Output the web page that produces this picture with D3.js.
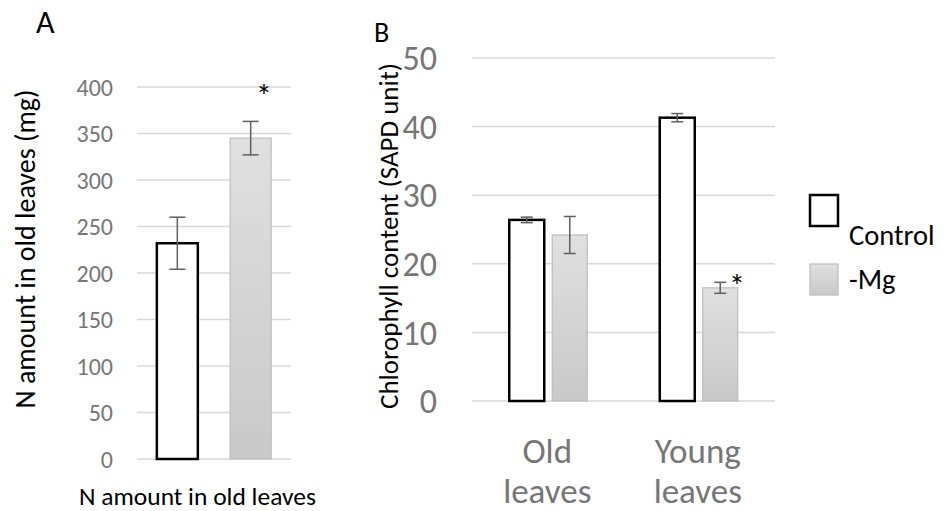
<!DOCTYPE html>
<html>
<head>
<meta charset="utf-8">
<script src="https://cdn.jsdelivr.net/npm/d3@7"></script>
<style>
  body { margin: 0; background: #fff; }
  svg { font-family: Carlito, Lato, "Open Sans", sans-serif; }
</style>
</head>
<body>
<svg id="chart" width="944" height="511"></svg>
<script>
// panel A data
const aTreatments = ["Control", "-Mg"];
const aValues = [232, 345];
const aErrors = [28, 18];
const aTicks = [0, 50, 100, 150, 200, 250, 300, 350, 400];

// panel B data
const bCategories = ["Old leaves", "Young leaves"];
const bControl = [26.4, 41.3];
const bControlErr = [0.4, 0.6];
const bMg = [24.2, 16.5];
const bMgErr = [2.7, 0.8];
const bTicks = [0, 10, 20, 30, 40, 50];

const svg = d3.select("#chart");
const gridColor = "#d9d9d9";
const tickColor = "#767676";
const errColor = "#5f5f5f";

// gradient for -Mg bars
const defs = svg.append("defs");
const grad = defs.append("linearGradient")
  .attr("id", "mgGrad").attr("x1", 0).attr("y1", 0).attr("x2", 0).attr("y2", 1);
grad.append("stop").attr("offset", "0%").attr("stop-color", "#e0e0e0");
grad.append("stop").attr("offset", "100%").attr("stop-color", "#c9c9c9");

function barStyle(sel, isMg) {
  if (isMg) {
    sel.attr("fill", "url(#mgGrad)").attr("stroke", "#bdbdbd").attr("stroke-width", 1.2);
  } else {
    sel.attr("fill", "#fff").attr("stroke", "#000").attr("stroke-width", 2.5);
  }
}

function errorBar(g, x, y0, y1, cap) {
  g.append("line").attr("x1", x).attr("x2", x).attr("y1", y0).attr("y2", y1)
    .attr("stroke", errColor).attr("stroke-width", 1.5);
  [y0, y1].forEach(y => {
    g.append("line").attr("x1", x - cap / 2).attr("x2", x + cap / 2).attr("y1", y).attr("y2", y)
      .attr("stroke", errColor).attr("stroke-width", 1.5);
  });
}

// ---------- Panel A ----------
const yA = d3.scaleLinear().domain([0, 400]).range([459, 87]);
const xA = d3.scaleBand().domain(aTreatments).range([137, 291]).paddingInner(0.9).paddingOuter(0.5);

const gA = svg.append("g");
gA.selectAll(".grid").data(aTicks).enter().append("line")
  .attr("x1", 137).attr("x2", 291)
  .attr("y1", d => yA(d)).attr("y2", d => yA(d))
  .attr("stroke", gridColor).attr("stroke-width", 1.5);

gA.selectAll(".tick").data(aTicks).enter().append("text")
  .attr("x", 113).attr("y", d => yA(d)).attr("dy", "0.36em")
  .attr("text-anchor", "end").attr("font-size", 24).attr("fill", tickColor)
  .text(d => d);

const barWA = 41;
aTreatments.forEach((t, i) => {
  const cx = xA(t) + xA.bandwidth() / 2;
  const r = gA.append("rect")
    .attr("x", cx - barWA / 2).attr("width", barWA)
    .attr("y", yA(aValues[i])).attr("height", yA(0) - yA(aValues[i]));
  barStyle(r, i === 1);
  errorBar(gA, cx, yA(aValues[i] + aErrors[i]), yA(aValues[i] - aErrors[i]), 16);
});
gA.append("text").attr("x", 264).attr("y", 107)
  .attr("text-anchor", "middle").attr("font-size", 32).attr("fill", "#000").text("*");

gA.append("text")
  .attr("transform", "translate(35,249) rotate(-90)")
  .attr("text-anchor", "middle").attr("font-size", 28).attr("fill", "#000")
  .text("N amount in old leaves (mg)");
gA.append("text").attr("x", 79).attr("y", 505).attr("font-size", 25.5).attr("fill", "#000")
  .text("N amount in old leaves");
gA.append("text").attr("x", 36).attr("y", 33).attr("font-size", 32).attr("fill", "#000").text("A");

// ---------- Panel B ----------
const yB = d3.scaleLinear().domain([0, 50]).range([401, 58]);
const xB = d3.scaleBand().domain(bCategories).range([472, 773]);

const gB = svg.append("g");
gB.selectAll(".grid").data(bTicks).enter().append("line")
  .attr("x1", 472).attr("x2", 775)
  .attr("y1", d => yB(d)).attr("y2", d => yB(d))
  .attr("stroke", gridColor).attr("stroke-width", 1.5);

gB.selectAll(".tick").data(bTicks).enter().append("text")
  .attr("x", 437).attr("y", d => yB(d)).attr("dy", "0.36em")
  .attr("text-anchor", "end").attr("font-size", 34).attr("fill", tickColor)
  .text(d => d);

const barWB = 35;
bCategories.forEach((c, i) => {
  const cx = xB(c) + xB.bandwidth() / 2;
  const series = [
    { v: bControl[i], e: bControlErr[i], x: cx - 3 - barWB / 2, mg: false },
    { v: bMg[i], e: bMgErr[i], x: cx + 5 + barWB / 2, mg: true }
  ];
  series.forEach(s => {
    const r = gB.append("rect")
      .attr("x", s.x - barWB / 2).attr("width", barWB)
      .attr("y", yB(s.v)).attr("height", yB(0) - yB(s.v));
    barStyle(r, s.mg);
    errorBar(gB, s.x, yB(s.v + s.e), yB(s.v - s.e), 12);
  });
  const words = c.split(" ");
  words.forEach((w, j) => {
    gB.append("text").attr("x", cx).attr("y", 463 + j * 40)
      .attr("text-anchor", "middle").attr("font-size", 35).attr("fill", tickColor).text(w);
  });
});
gB.append("text").attr("x", 737).attr("y", 297)
  .attr("text-anchor", "middle").attr("font-size", 32).attr("fill", "#000").text("*");

gB.append("text")
  .attr("transform", "translate(398,236) rotate(-90)")
  .attr("text-anchor", "middle").attr("font-size", 27).attr("fill", "#000")
  .text("Chlorophyll content (SAPD unit)");
gB.append("text").attr("x", 374).attr("y", 42).attr("font-size", 28).attr("fill", "#000").text("B");

// ---------- Legend ----------
const legend = svg.append("g");
const legItems = ["Control", "-Mg"];
legItems.forEach((name, i) => {
  const r = legend.append("rect")
    .attr("x", 810).attr("y", 195 + i * 69).attr("width", 28).attr("height", 31);
  barStyle(r, i === 1);
  legend.append("text").attr("x", 849).attr("y", 245 + i * 44)
    .attr("font-size", 28.5).attr("fill", "#000").text(name);
});
</script>
</body>
</html>
